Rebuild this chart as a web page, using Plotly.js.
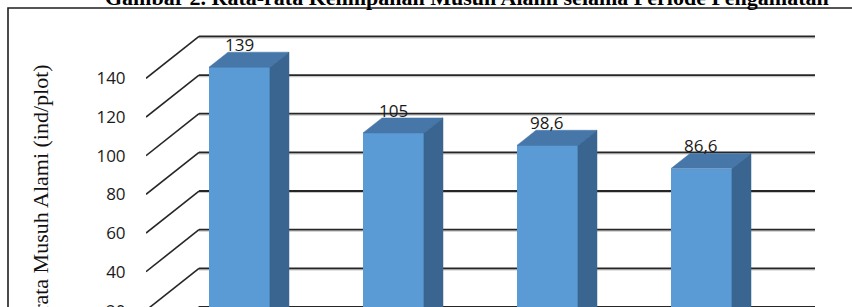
<!DOCTYPE html>
<html>
<head>
<meta charset="utf-8">
<script src="https://cdn.plot.ly/plotly-3.0.1.min.js"></script>
<style>
  html, body { margin: 0; padding: 0; background: #ffffff; }
  #chart { width: 852px; height: 307px; }
</style>
</head>
<body>
<div id="chart"></div>
<script>
// ---- data ----
const categories = ["1", "2", "3", "4"];
const values = [139, 105, 98.6, 86.6];
const valueLabels = ["139", "105", "98,6", "86,6"];
const tickValues = [0, 20, 40, 60, 80, 100, 120, 140];
const tickLabels = ["0", "20", "40", "60", "80", "100", "120", "140"];
const chartTitle = "Gambar 2. Rata-rata Kelimpahan Musuh Alami selama Periode Pengamatan";
const yTitle = "Rata-rata Musuh Alami (ind/plot)";

// ---- 3D oblique geometry (style) ----
const W = 852, H = 307;
const ML = 146;                 // left edge of plot area (front-left floor corner)
const PX_PER_CAT = 154;
const PX_PER_UNIT = 1.933;
const FRONT_BASE_PX = 349;      // screen y of value 0 on the front floor plane
const DX = 53 / PX_PER_CAT;     // full depth, in category units
const DY = 42 / PX_PER_UNIT;    // full depth, in value units
const D_FRONT = 0.31;           // depth of bar front face (0 front, 1 back wall)
const D_BAR = 0.36;             // bar depth
const BAR_W = 0.396;

const xRange = [-0.5, -0.5 + (W - ML) / PX_PER_CAT];
const yRange = [(FRONT_BASE_PX - H) / PX_PER_UNIT, FRONT_BASE_PX / PX_PER_UNIT];

const xs = categories.map((c, i) => i);
const colFront = "#5B9BD5", colTop = "#4677A8", colSide = "#3A6591";

const base = DY * D_FRONT;
const ddx = DX * D_BAR, ddy = DY * D_BAR;
const frontX = xs.map(i => i + DX * D_FRONT);

const traces = [];
traces.push({
  type: "bar",
  x: frontX,
  y: values,
  base: values.map(() => base),
  width: BAR_W,
  marker: { color: colFront, line: { width: 0 } },
  hoverinfo: "skip",
  showlegend: false
});
values.forEach((v, i) => {
  const xl = frontX[i] - BAR_W / 2, xr = frontX[i] + BAR_W / 2;
  const t = v + base;
  traces.push({
    type: "scatter", mode: "lines", fill: "toself",
    x: [xl, xr, xr + ddx, xl + ddx, xl],
    y: [t, t, t + ddy, t + ddy, t],
    fillcolor: colTop, line: { width: 0.5, color: colTop },
    hoverinfo: "skip", showlegend: false
  });
  traces.push({
    type: "scatter", mode: "lines", fill: "toself",
    x: [xr, xr + ddx, xr + ddx, xr, xr],
    y: [base, base + ddy, t + ddy, t, base],
    fillcolor: colSide, line: { width: 0.5, color: colSide },
    hoverinfo: "skip", showlegend: false
  });
});

// gridlines: back wall + left wall diagonals (with a faint shadow)
const shapes = [];
const xBackL = -0.5 + DX, xBackR = categories.length - 0.5 + DX;
const shadow = 1.4 / PX_PER_UNIT;
tickValues.forEach(tv => {
  shapes.push({ type: "line", xref: "x", yref: "y", layer: "below",
    x0: xBackL, x1: xBackR, y0: tv + DY - shadow, y1: tv + DY - shadow,
    line: { color: "#c8c8c8", width: 1.4 } });
  shapes.push({ type: "line", xref: "x", yref: "y", layer: "below",
    x0: xBackL, x1: xBackR, y0: tv + DY, y1: tv + DY,
    line: { color: "#262626", width: 1.8 } });
  shapes.push({ type: "line", xref: "x", yref: "y", layer: "below",
    x0: -0.5, x1: xBackL, y0: tv, y1: tv + DY,
    line: { color: "#262626", width: 1.6 } });
});
// outer frame (left + top)
const px2paperX = px => (px - ML) / (W - ML);
const px2paperY = py => 1 - py / H;
shapes.push({ type: "path", xref: "paper", yref: "paper",
  path: `M ${px2paperX(8)} ${px2paperY(H + 5)} L ${px2paperX(8)} ${px2paperY(8)} L ${px2paperX(W + 5)} ${px2paperY(8)}`,
  line: { color: "#1e1e1e", width: 1.6 } });

const annotations = [];
values.forEach((v, i) => {
  annotations.push({
    x: frontX[i], y: v + base + ddy, xref: "x", yref: "y",
    text: valueLabels[i], showarrow: false, xanchor: "center", yanchor: "bottom",
    yshift: -6, font: { family: "Open Sans", size: 17, color: "#1a1a1a" }
  });
});
// tick labels below visible range (partially clipped)
tickValues.forEach((tv, k) => {
  if (tv < yRange[0] && tv > yRange[0] - 8) {
    annotations.push({
      x: 0, xref: "paper", xanchor: "right", xshift: -19,
      y: (tv - yRange[0]) / (yRange[1] - yRange[0]), yref: "paper", yanchor: "middle",
      text: tickLabels[k], showarrow: false,
      font: { family: "Open Sans", size: 17, color: "#1a1a1a" }
    });
  }
});
annotations.push({
  x: px2paperX(40), xref: "paper", xanchor: "center",
  y: px2paperY(62), yref: "paper", yanchor: "top",
  textangle: -90, text: yTitle, showarrow: false,
  font: { family: "Liberation Serif", size: 22, color: "#111" }
});
annotations.push({
  x: px2paperX(467), xref: "paper", xanchor: "center",
  y: px2paperY(11.8), yref: "paper", yanchor: "bottom",
  text: "<b>" + chartTitle + "</b>", showarrow: false,
  font: { family: "Liberation Serif", size: 22, color: "#000" }
});

const layout = {
  width: W, height: H,
  margin: { l: ML, r: 0, t: 0, b: 0, pad: 0 },
  paper_bgcolor: "#ffffff", plot_bgcolor: "#ffffff",
  xaxis: { range: xRange, visible: false, fixedrange: true },
  yaxis: {
    range: yRange, showgrid: false, zeroline: false, showline: false,
    tickvals: tickValues, ticktext: tickLabels,
    ticks: "outside", ticklen: 16, tickcolor: "rgba(0,0,0,0)",
    tickfont: { family: "Open Sans", size: 17, color: "#1a1a1a" },
    fixedrange: true
  },
  shapes: shapes,
  annotations: annotations,
  showlegend: false,
  bargap: 0
};

Plotly.newPlot("chart", traces, layout, { staticPlot: true, displayModeBar: false });
</script>
</body>
</html>
